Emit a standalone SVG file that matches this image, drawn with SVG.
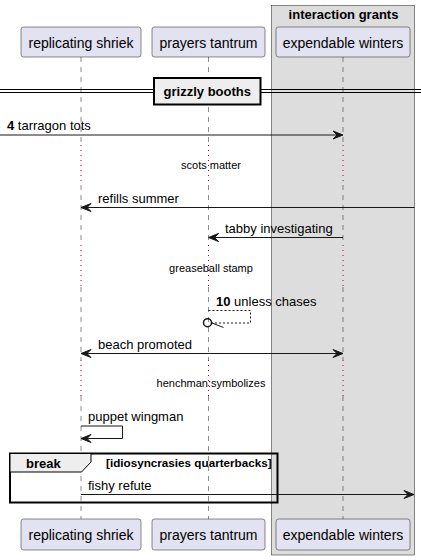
<svg xmlns="http://www.w3.org/2000/svg" width="421" height="560" viewBox="0 0 421 560">
<style>
text{font-family:"Liberation Sans",Arial,sans-serif;fill:#000}
.pt{font-size:14px;text-anchor:middle}
.msg{font-size:13px}
.dl{font-size:11px;text-anchor:middle}
.b{font-weight:bold}
.part{fill:#E2E2F0;stroke:#181818;stroke-width:0.5}
.ll{stroke:#181818;stroke-width:0.5;stroke-dasharray:5,5;fill:none}
.dot{stroke:#A80036;stroke-width:1;stroke-dasharray:1,4;fill:none}
.ln{stroke:#181818;stroke-width:1;fill:none}
.ah{fill:#181818;stroke:#181818;stroke-width:1}
</style>
<rect x="271.5" y="5.5" width="143" height="549.5" fill="#DDDDDD" stroke="#181818" stroke-width="0.5"/>
<text x="343.5" y="19" class="b" font-size="13" text-anchor="middle">interaction grants</text>
<g id="lifelines">
<path class="ll" d="M81,57V145M81,185V245M81,287V360M81,396V519"/>
<path class="dot" d="M81,145V185M81,245V287M81,360V396"/>
<path class="ll" d="M208.5,57V145M208.5,185V245M208.5,287V360M208.5,396V519"/>
<path class="dot" d="M208.5,145V185M208.5,245V287M208.5,360V396"/>
<path class="ll" d="M343,57V145M343,185V245M343,287V360M343,396V519"/>
<path class="dot" d="M343,145V185M343,245V287M343,360V396"/>
</g>
<g id="p-replicating-shriek">
<rect class="part" x="21" y="27" width="120" height="30" rx="2.5"/>
<text class="pt" x="81" y="47.5">replicating shriek</text>
<rect class="part" x="21" y="519" width="120" height="31" rx="2.5"/>
<text class="pt" x="81" y="539.5">replicating shriek</text>
</g>
<g id="p-prayers-tantrum">
<rect class="part" x="152" y="27" width="113" height="30" rx="2.5"/>
<text class="pt" x="208.5" y="47.5">prayers tantrum</text>
<rect class="part" x="152" y="519" width="113" height="31" rx="2.5"/>
<text class="pt" x="208.5" y="539.5">prayers tantrum</text>
</g>
<g id="p-expendable-winters">
<rect class="part" x="276" y="27" width="134" height="30" rx="2.5"/>
<text class="pt" x="343" y="47.5">expendable winters</text>
<rect class="part" x="276" y="519" width="134" height="31" rx="2.5"/>
<text class="pt" x="343" y="539.5">expendable winters</text>
</g>
<g id="divider">
<line x1="0" y1="89.5" x2="421" y2="89.5" stroke="#000" stroke-width="1"/>
<line x1="0" y1="92.5" x2="421" y2="92.5" stroke="#000" stroke-width="1"/>
<rect x="154" y="78" width="106.5" height="26.5" fill="#EEEEEE" stroke="#000" stroke-width="2"/>
<text x="207.3" y="96" class="b" font-size="13" text-anchor="middle">grizzly booths</text>
</g>
<g id="delays">
<text class="dl" x="211" y="169">scots matter</text>
<text class="dl" x="211" y="272">greaseball stamp</text>
<text class="dl" x="211" y="387">henchman:symbolizes</text>
</g>
<g id="break-frame">
<rect x="10" y="453.5" width="267.5" height="49" fill="none" stroke="#000" stroke-width="2"/>
<path d="M10,453.5H91V462L81.5,472H10Z" fill="#EEEEEE" stroke="#000" stroke-width="1"/>
<text x="26" y="467.5" class="b" font-size="13">break</text>
<text x="106" y="467" class="b" font-size="11.7">[idiosyncrasies quarterbacks]</text>
</g>
<g id="connectors">
<line class="ln" x1="0" y1="135" x2="342" y2="135"/>
<polygon class="ah" points="333,131 343,135 333,139 337,135"/>
<text class="msg" x="7" y="130"><tspan class="b">4</tspan> tarragon tots</text>

<line class="ln" x1="414.5" y1="207.5" x2="82" y2="207.5"/>
<polygon class="ah" points="91,203.5 81,207.5 91,211.5 87,207.5"/>
<text class="msg" x="98" y="202.5">refills summer</text>

<line class="ln" x1="343" y1="237.5" x2="209.5" y2="237.5"/>
<polygon class="ah" points="218.5,233.5 208.5,237.5 218.5,241.5 214.5,237.5"/>
<text class="msg" x="225" y="232.5">tabby investigating</text>

<path d="M208.5,310.5H250.5V323H212" fill="none" stroke="#181818" stroke-width="1" stroke-dasharray="2,2"/>
<circle cx="207.5" cy="322.7" r="4" fill="none" stroke="#181818" stroke-width="1.5"/>
<line class="ln" x1="212" y1="323" x2="223.5" y2="327.5"/>
<text class="msg" x="216" y="306"><tspan class="b">10</tspan> unless chases</text>

<line class="ln" x1="82" y1="353.5" x2="342" y2="353.5"/>
<polygon class="ah" points="91,349.5 81,353.5 91,357.5 87,353.5"/>
<polygon class="ah" points="333,349.5 343,353.5 333,357.5 337,353.5"/>
<text class="msg" x="98" y="348.5">beach promoted</text>

<path class="ln" d="M81,426H122.5V438.5H82"/>
<polygon class="ah" points="91,434.5 81,438.5 91,442.5 87,438.5"/>
<text class="msg" x="88" y="421">puppet wingman</text>

<line class="ln" x1="81" y1="494.5" x2="413" y2="494.5"/>
<polygon class="ah" points="404,490.5 414,494.5 404,498.5 408,494.5"/>
<text class="msg" x="88" y="489.5">fishy refute</text>
</g>
</svg>
